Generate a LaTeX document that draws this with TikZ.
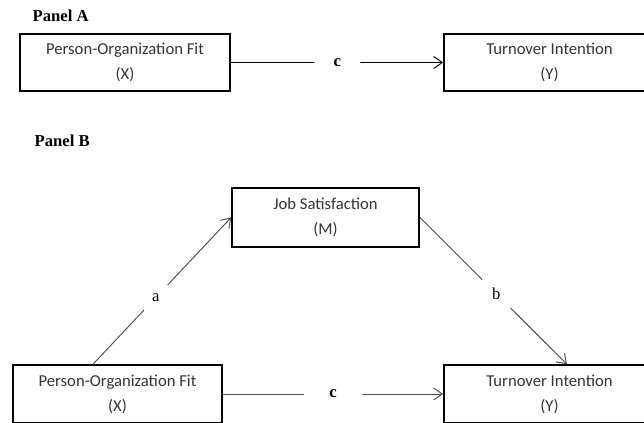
\documentclass[tikz,border=0pt]{standalone}
\usepackage{fontspec}
\setmainfont{Liberation Serif}
\newfontfamily\calibri{Carlito}
\usetikzlibrary{arrows.meta,calc,positioning}

\begin{document}
\begin{tikzpicture}[x=0.75pt,y=-0.75pt,
	var/.style={rectangle,draw,line width=1.6pt,minimum width=158pt,minimum height=43pt,align=center,text=black!80,font=\calibri\fontsize{12.5}{18.75}\selectfont},
	path/.style={-{Straight Barb[length=6.5pt,width=9pt]},line width=0.7pt},
	coef/.style={circle,fill=white,inner sep=0pt,text=black,font=\fontsize{12.5}{14}\selectfont},
	panel/.style={anchor=base west,font=\bfseries\fontsize{12.5}{15}\selectfont}]
	\clip (0,0) rectangle (644,423);

	% Panel A
	\node[panel] at (28,22) (pA) {Panel A};
	\node[var] at (125,62.5) (xA) {Person-Organization Fit\\(X)};
	\node[var] at (549.5,62.5) (yA) {Turnover Intention\\(Y)};
	\draw[path] (xA) -- (yA) node [coef,midway,minimum size=34.5pt] {\bfseries c};

	% Panel B
	\node[panel] at (30,147) (pB) {Panel B};
	\node[var,minimum width=140pt,minimum height=44pt] at (325.5,217.5) (jsB) {Job Satisfaction\\(M)};
	\node[var,minimum width=157pt] at (117.5,394) (xB) {Person-Organization Fit\\(X)};
	\node[var] at (549.5,394) (yB) {Turnover Intention\\(Y)};
	\draw[path,black!70] ($(xB.north west)!0.384!(xB.north east)$) -- (jsB.west) node [coef,pos=0.455,minimum size=26pt] {a};
	\draw[path,black!70] (jsB.east) -- ($(yB.north west)!0.582!(yB.north east)$) node [coef,pos=0.52,minimum size=30pt] {b};
	\draw[path,black!70] (xB) -- (yB) node [coef,midway,minimum size=44pt] {\bfseries c};
\end{tikzpicture}
\end{document}
